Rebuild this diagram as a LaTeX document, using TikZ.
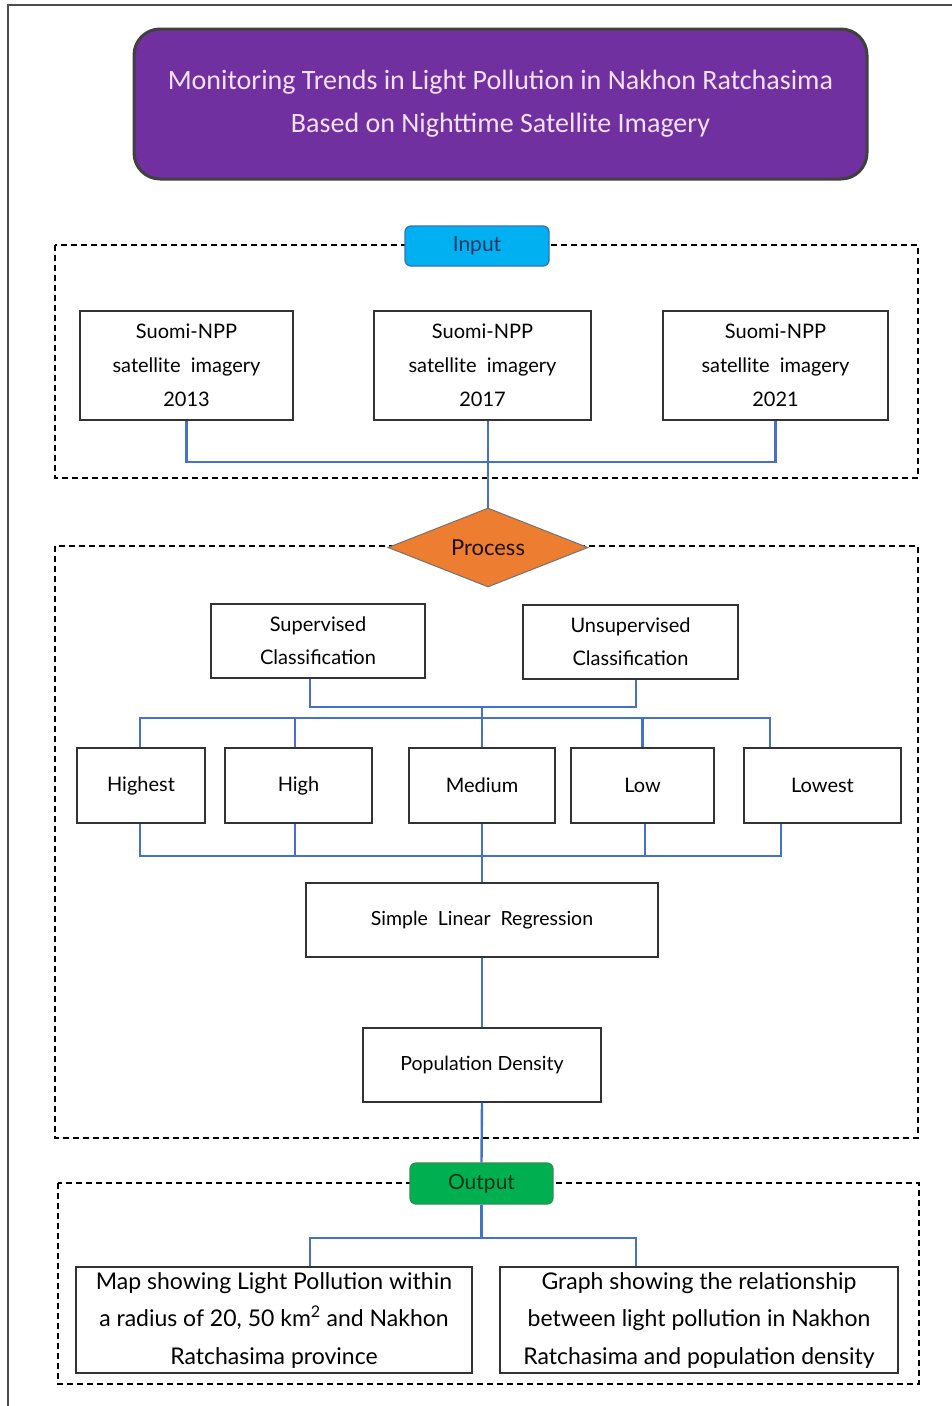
\documentclass[tikz,border=0pt]{standalone}
\usepackage{fontspec}
\setmainfont{Lato}
\newfontfamily\titlefont{Carlito}
\usetikzlibrary{shapes.geometric}
\definecolor{titlefill}{HTML}{7030A0}
\definecolor{titletext}{HTML}{F3E1F3}
\definecolor{conncol}{HTML}{4472C4}
\definecolor{inputfill}{HTML}{00B0F0}
\definecolor{inputdraw}{HTML}{2E75B6}
\definecolor{inputtext}{HTML}{1F3864}
\definecolor{outfill}{HTML}{00B050}
\definecolor{outdraw}{HTML}{2F8F4F}
\definecolor{outtext}{HTML}{003318}
\definecolor{procfill}{HTML}{ED7D31}
\definecolor{boxdraw}{HTML}{333333}
\tikzset{
  box/.style={draw=boxdraw, line width=1.3pt, fill=white, inner sep=0pt, align=center, text=black},
  conn/.style={draw=conncol, line width=2.4pt},
  dashbox/.style={draw=black, dashed, line width=1.2pt, dash pattern=on 6pt off 4pt},
  labelbox/.style={rounded corners=6pt, line width=1.3pt, inner sep=0pt, font=\fontsize{21}{24}\selectfont},
}
\begin{document}
\begin{tikzpicture}[x=1pt, y=-1pt]
\useasboundingbox (0,0) rectangle (952,1406);
% outer frame
\draw[draw=black!70, line width=1.5pt] (952,5) -- (8,5) -- (8,1406);
% title
\node[draw=black!75, line width=3pt, fill=titlefill, rounded corners=26pt, minimum width=733pt, minimum height=150pt, inner sep=0pt, text=titletext, align=center, font=\titlefont\fontsize{28}{43}\selectfont] (title) at (500.5,104) {Monitoring Trends in Light Pollution in Nakhon Ratchasima\\Based on Nighttime Satellite Imagery};
% dashed group boxes
\draw[dashbox] (55,245) rectangle (918,478);
\draw[dashbox] (55,546) rectangle (918,1138);
\draw[dashbox] (58,1183) rectangle (919,1384);
% input
\node[labelbox, draw=inputdraw, fill=inputfill, text=inputtext, minimum width=144pt, minimum height=40pt] (input) at (477,246) {Input};
\node[box, minimum width=213pt, minimum height=109pt, font=\fontsize{20}{34}\selectfont] (s1) at (186.5,365.5) {Suomi-NPP\\satellite\ \ imagery\\2013};
\node[box, minimum width=217pt, minimum height=109pt, font=\fontsize{20}{34}\selectfont] (s2) at (482.5,365.5) {Suomi-NPP\\satellite\ \ imagery\\2017};
\node[box, minimum width=225pt, minimum height=109pt, font=\fontsize{20}{34}\selectfont] (s3) at (775.5,365.5) {Suomi-NPP\\satellite\ \ imagery\\2021};
% process
\node[diamond, shape aspect=2.5, draw=black!55, line width=1pt, fill=procfill, minimum width=200pt, minimum height=79pt, inner sep=0pt, text=black!85!brown, font=\fontsize{22}{24}\selectfont] (dia) at (488,547.5) {Process};
\coordinate (b1) at (0,462);
\draw[conn] (s1.south) |- (s3.south |- b1) -- (s3.south);
\draw[conn] (s2.south -| dia.north) -- (dia.north);
\node[box, minimum width=214pt, minimum height=74pt, font=\fontsize{20}{33}\selectfont] (sup) at (318,641) {Supervised\\Classification};
\node[box, minimum width=215pt, minimum height=74pt, font=\fontsize{20}{33}\selectfont] (uns) at (630.5,642) {Unsupervised\\Classification};
\node[box, minimum width=128pt, minimum height=75pt, font=\fontsize{20}{24}\selectfont] (l1) at (141,785.5) {Highest};
\node[box, minimum width=147pt, minimum height=75pt, font=\fontsize{20}{24}\selectfont] (l2) at (298.5,785.5) {High};
\node[box, minimum width=146pt, minimum height=75pt, font=\fontsize{20}{24}\selectfont] (l3) at (482,785.5) {Medium};
\node[box, minimum width=143pt, minimum height=75pt, font=\fontsize{20}{24}\selectfont] (l4) at (642.5,785.5) {Low};
\node[box, minimum width=157pt, minimum height=75pt, font=\fontsize{20}{24}\selectfont] (l5) at (822.5,785.5) {Lowest};
\coordinate (b2l) at (310,707);
\coordinate (b2r) at (636,707);
\draw[conn] (b2l |- sup.south) -- (b2l) -- (b2r) -- (b2r |- uns.south);
\coordinate (b3l) at (140,718);
\coordinate (b3r) at (770,718);
\draw[conn] (l3.north |- b2l) -- (l3.north |- b3l);
\draw[conn] (b3l |- l1.north) -- (b3l) -- (b3r) -- (b3r |- l5.north);
\draw[conn] (l2.north -| 295,0) -- (b3l -| 295,0);
\draw[conn] (l3.north) -- (l3.north |- b3l);
\draw[conn] (l4.north) -- (l4.north |- b3l);
\coordinate (b4l) at (140,856);
\coordinate (b4r) at (781,856);
\draw[conn] (b4l |- l1.south) -- (b4l) -- (b4r) -- (b4r |- l5.south);
\draw[conn] (l2.south -| 295,0) -- (b4l -| 295,0);
\draw[conn] (l4.south -| 645,0) -- (b4l -| 645,0);
\node[box, minimum width=352pt, minimum height=74pt, font=\fontsize{19.5}{24}\selectfont] (slr) at (482,920) {Simple\ \ Linear\ \ Regression};
\node[box, minimum width=238pt, minimum height=74pt, font=\fontsize{19.5}{24}\selectfont] (pd) at (482,1065) {Population Density};
\draw[conn] (l3.south) -- (slr.north);
\draw[conn] (slr.south) -- (pd.north);
% output
\node[labelbox, draw=outdraw, fill=outfill, text=outtext, minimum width=143pt, minimum height=41pt] (out) at (481.5,1183.5) {Output};
\draw[conn] (pd.south) -- (out.north);
\node[box, minimum width=396pt, minimum height=106pt, font=\fontsize{23}{37.5}\selectfont] (map) at (274,1320) {Map showing Light Pollution within\\a radius of 20, 50 km\textsuperscript{2} and Nakhon\\Ratchasima province};
\node[box, minimum width=398pt, minimum height=106pt, font=\fontsize{23}{37.5}\selectfont] (graph) at (699,1320) {Graph showing the relationship\\between light pollution in Nakhon\\Ratchasima and population density};
\coordinate (b5l) at (310,1238);
\coordinate (b5r) at (636,1238);
\draw[conn] (out.south) -- (out.south |- b5l);
\draw[conn] (b5l |- map.north) -- (b5l) -- (b5r) -- (b5r |- graph.north);
\end{tikzpicture}
\end{document}
